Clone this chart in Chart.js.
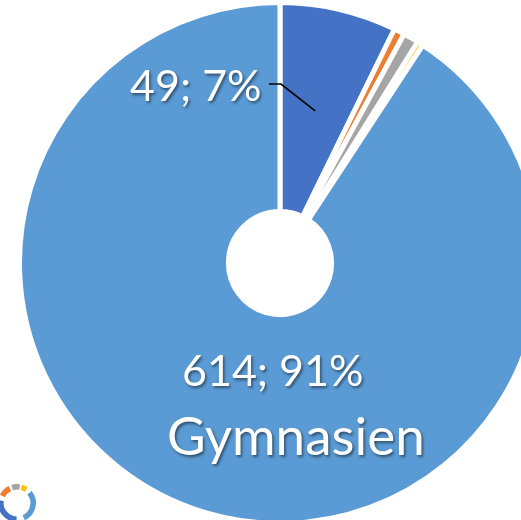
<!DOCTYPE html>
<html>
<head>
<meta charset="utf-8">
<script src="https://cdn.jsdelivr.net/npm/chart.js@4"></script>
<style>
    html, body { margin: 0; padding: 0; width: 521px; height: 520px; overflow: hidden; background: #fff; }
    #main { position: absolute; left: 0; top: 0; }
    #icon { position: absolute; left: -5px; top: 481px; }
</style>
</head>
<body>
<canvas id="main" width="560" height="526"></canvas>
<canvas id="icon" width="44" height="44"></canvas>
<script>
const categories = ['Blue', 'Orange', 'Gray', 'Yellow', 'Gymnasien'];
const values = [49, 4.5, 6.5, 2.5, 614];
const colors = ['#4472c4', '#ed7d31', '#a5a5a5', '#ffc000', '#5b9bd5'];

// the little ring in the lower left corner, in the order it is drawn from the top right
const iconValues = [132, 122, 48, 34, 24];
const iconColors = ['#5b9bd5', '#4472c4', '#ed7d31', '#a5a5a5', '#ffc000'];

const total = values.reduce((a, b) => a + b, 0);
const labelText = i => `${values[i]}; ${Math.round(values[i] / total * 100)}%`;

const labelsPlugin = {
    id: 'sliceLabels',
    afterDraw(chart) {
        const ctx = chart.ctx;
        const arc = chart.getDatasetMeta(0).data[0];
        const mid = arc.getCenterPoint();

        // leader line for the small slice
        ctx.save();
        ctx.strokeStyle = '#000';
        ctx.lineWidth = 1.6;
        ctx.beginPath();
        ctx.moveTo(269, 84);
        ctx.lineTo(281, 84);
        ctx.lineTo(mid.x, mid.y);
        ctx.stroke();
        ctx.restore();

        ctx.save();
        ctx.fillStyle = '#fff';
        ctx.textBaseline = 'alphabetic';
        ctx.shadowColor = 'rgba(0, 0, 0, 0.5)';
        ctx.shadowBlur = 3;
        ctx.shadowOffsetX = 1.5;
        ctx.shadowOffsetY = 1.5;
        ctx.font = '43px Lato';
        ctx.fillText(labelText(0), 130, 101);
        ctx.fillText(labelText(4), 182, 386);
        ctx.font = '53px Lato';
        ctx.fillText(categories[4], 167, 455);
        ctx.restore();
    }
};

new Chart(document.getElementById('main').getContext('2d'), {
    type: 'doughnut',
    data: {
        labels: categories,
        datasets: [{
            data: values,
            backgroundColor: colors,
            borderColor: '#fff',
            borderWidth: 5
        }]
    },
    options: {
        responsive: false,
        animation: false,
        radius: 260.5,
        cutout: '19.8%',
        plugins: { legend: { display: false }, tooltip: { enabled: false } }
    },
    plugins: [labelsPlugin]
});

new Chart(document.getElementById('icon').getContext('2d'), {
    type: 'doughnut',
    data: {
        labels: categories,
        datasets: [{
            data: iconValues,
            backgroundColor: iconColors,
            borderWidth: 0,
            spacing: 6
        }]
    },
    options: {
        responsive: false,
        animation: false,
        rotation: 37,
        radius: 16,
        cutout: '65%',
        plugins: { legend: { display: false }, tooltip: { enabled: false } }
    }
});
</script>
</body>
</html>
